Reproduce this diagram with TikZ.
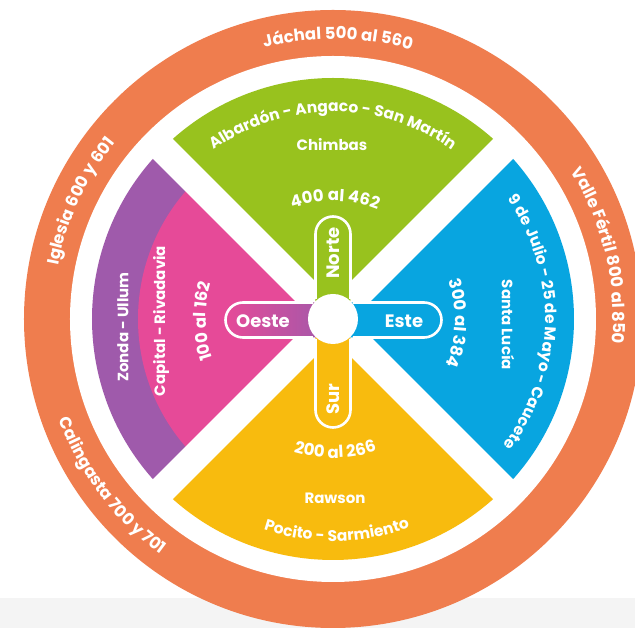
\documentclass[tikz,border=0pt]{standalone}
\usepackage{fontspec}
\setmainfont{Poppins}
\usetikzlibrary{decorations.text}
\definecolor{ringor}{HTML}{EF7D4E}
\definecolor{grn}{HTML}{98C21E}
\definecolor{mag}{HTML}{E64A98}
\definecolor{pur}{HTML}{9F5AAB}
\definecolor{blu}{HTML}{08A5E0}
\definecolor{yel}{HTML}{F8BB0E}
\definecolor{lgray}{HTML}{F4F4F4}
\newcommand\ringfmt{\color{white}\bfseries\fontsize{16.5}{18}\selectfont}
\newcommand\infmt{\color{white}\bfseries\fontsize{15.5}{17}\selectfont}
\newcommand\numfmt{\color{white}\bfseries\fontsize{16.5}{18}\selectfont}
\tikzset{
  lbl/.style={text=white, font=\bfseries\fontsize{15}{17}\selectfont, inner sep=0pt},
  pilllbl/.style={text=white, font=\bfseries\fontsize{18}{20}\selectfont, inner sep=0pt},
  pillline/.style={draw=white, line width=2.6pt},
  gap/.style={draw=white, line width=28pt, line cap=butt},
}
\begin{document}
\begin{tikzpicture}[x=1pt,y=1pt]
\useasboundingbox (-333,-309) rectangle (302,319);
\fill[white] (-333,-309) rectangle (302,319);
\fill[lgray] (-333,-309) rectangle (302,-279);
% outer ring
\fill[ringor] (0,0) circle (309);
\fill[white] (0,0) circle (263);
% sectors
\fill[grn] (0,0) -- (45:241) arc[start angle=45, end angle=135, radius=241] -- cycle;
\fill[pur] (0,0) -- (135:241) arc[start angle=135, end angle=225, radius=241] -- cycle;
\fill[mag] (0,0) -- (135:195) arc[start angle=135, end angle=225, radius=195] -- cycle;
\fill[yel] (0,0) -- (225:241) arc[start angle=225, end angle=315, radius=241] -- cycle;
\fill[blu] (0,0) -- (-45:241) arc[start angle=-45, end angle=45, radius=241] -- cycle;
% white gaps
\coordinate (g1) at (135:252);
\coordinate (g2) at (-45:252);
\coordinate (g3) at (45:252);
\coordinate (g4) at (225:252);
\path[gap] (g1) -- (g2);
\path[gap] (g3) -- (g4);
% pills
\fill[grn] (-17.5,0) -- (-17.5,85) arc[start angle=180, end angle=0, radius=17.5] -- (17.5,0) -- cycle;
\draw[pillline] (-17.5,20) -- (-17.5,85) arc[start angle=180, end angle=0, radius=17.5] -- (17.5,20);
\fill[yel] (-17.5,0) -- (-17.5,-91) arc[start angle=180, end angle=360, radius=17.5] -- (17.5,0) -- cycle;
\draw[pillline] (-17.5,-20) -- (-17.5,-91) arc[start angle=180, end angle=360, radius=17.5] -- (17.5,-20);
\fill[blu] (0,16.5) -- (91,16.5) arc[start angle=90, end angle=-90, radius=17.5] -- (0,-18.5) -- cycle;
\draw[pillline] (20,16.5) -- (91,16.5) arc[start angle=90, end angle=-90, radius=17.5] -- (20,-18.5);
\shade[left color=mag, right color=pur] (0,16.5) -- (-90,16.5) arc[start angle=90, end angle=270, radius=17.5] -- (0,-18.5) -- cycle;
\draw[pillline] (-20,16.5) -- (-90,16.5) arc[start angle=90, end angle=270, radius=17.5] -- (-20,-18.5);
% center circle
\fill[white] (0,0) circle (25);
\node[pilllbl, rotate=90] (norte) at (0,66) {Norte};
\node[pilllbl, rotate=90] (sur) at (0,-80) {Sur};
\node[pilllbl] (este) at (71,-2) {Este};
\node[pilllbl] (oeste) at (-70,-2) {Oeste};
% ring texts
\path[decorate, decoration={text along path, text align=center, text={|\ringfmt|Jáchal 500 al 560}}]
  (134:280) arc[start angle=134, end angle=44, radius=280];
\path[decorate, decoration={text along path, text align=center, text={|\ringfmt|Valle Fértil 800 al 850}}]
  (63.4:280) arc[start angle=63.4, end angle=-36.6, radius=280];
\path[decorate, decoration={text along path, text align=center, text={|\ringfmt|Iglesia 600 y 601}}]
  (205:280) arc[start angle=205, end angle=105, radius=280];
\path[decorate, decoration={text along path, text align=center, text={|\ringfmt|Calingasta 700 y 701}}]
  (167:292) arc[start angle=167, end angle=267, radius=292];
% green
\path[decorate, decoration={text along path, text align=center, text={|\infmt|Albardón - Angaco - San Martín}}]
  (150:207) arc[start angle=150, end angle=30, radius=207];
\node[lbl] (chimbas) at (-1,174) {Chimbas};
\path[decorate, decoration={text along path, text align=center, text={|\numfmt|400 al 462}}]
  (159:118) arc[start angle=159, end angle=19, radius=118];
% blue
\path[decorate, decoration={text along path, text align=center, text={|\infmt|9 de Julio - 25 de Mayo - Caucete}}]
  (69:212) arc[start angle=69, end angle=-71, radius=212];
\node[lbl, rotate=-90] (santalucia) at (175,-6) {Santa Lucía};
\path[decorate, decoration={text along path, text align=center, text={|\numfmt|300 al 384}}]
  (68:122) arc[start angle=68, end angle=-72, radius=122];
% left
\node[lbl, rotate=90] (zonda) at (-210,-8) {Zonda - Ullum};
\node[lbl, rotate=90] (capital) at (-172,-2) {Capital - Rivadavia};
\path[decorate, decoration={text along path, text align=center, text={|\numfmt|100 al 162}}]
  (251:127) arc[start angle=251, end angle=111, radius=127];
% yellow
\path[decorate, decoration={text along path, text align=center, text={|\numfmt|200 al 266}}]
  (201:139) arc[start angle=201, end angle=341, radius=139];
\node[lbl] (rawson) at (2,-179) {Rawson};
\path[decorate, decoration={text along path, text align=center, text={|\infmt|Pocito - Sarmiento}}]
  (201:222) arc[start angle=201, end angle=341, radius=222];
\end{tikzpicture}
\end{document}
